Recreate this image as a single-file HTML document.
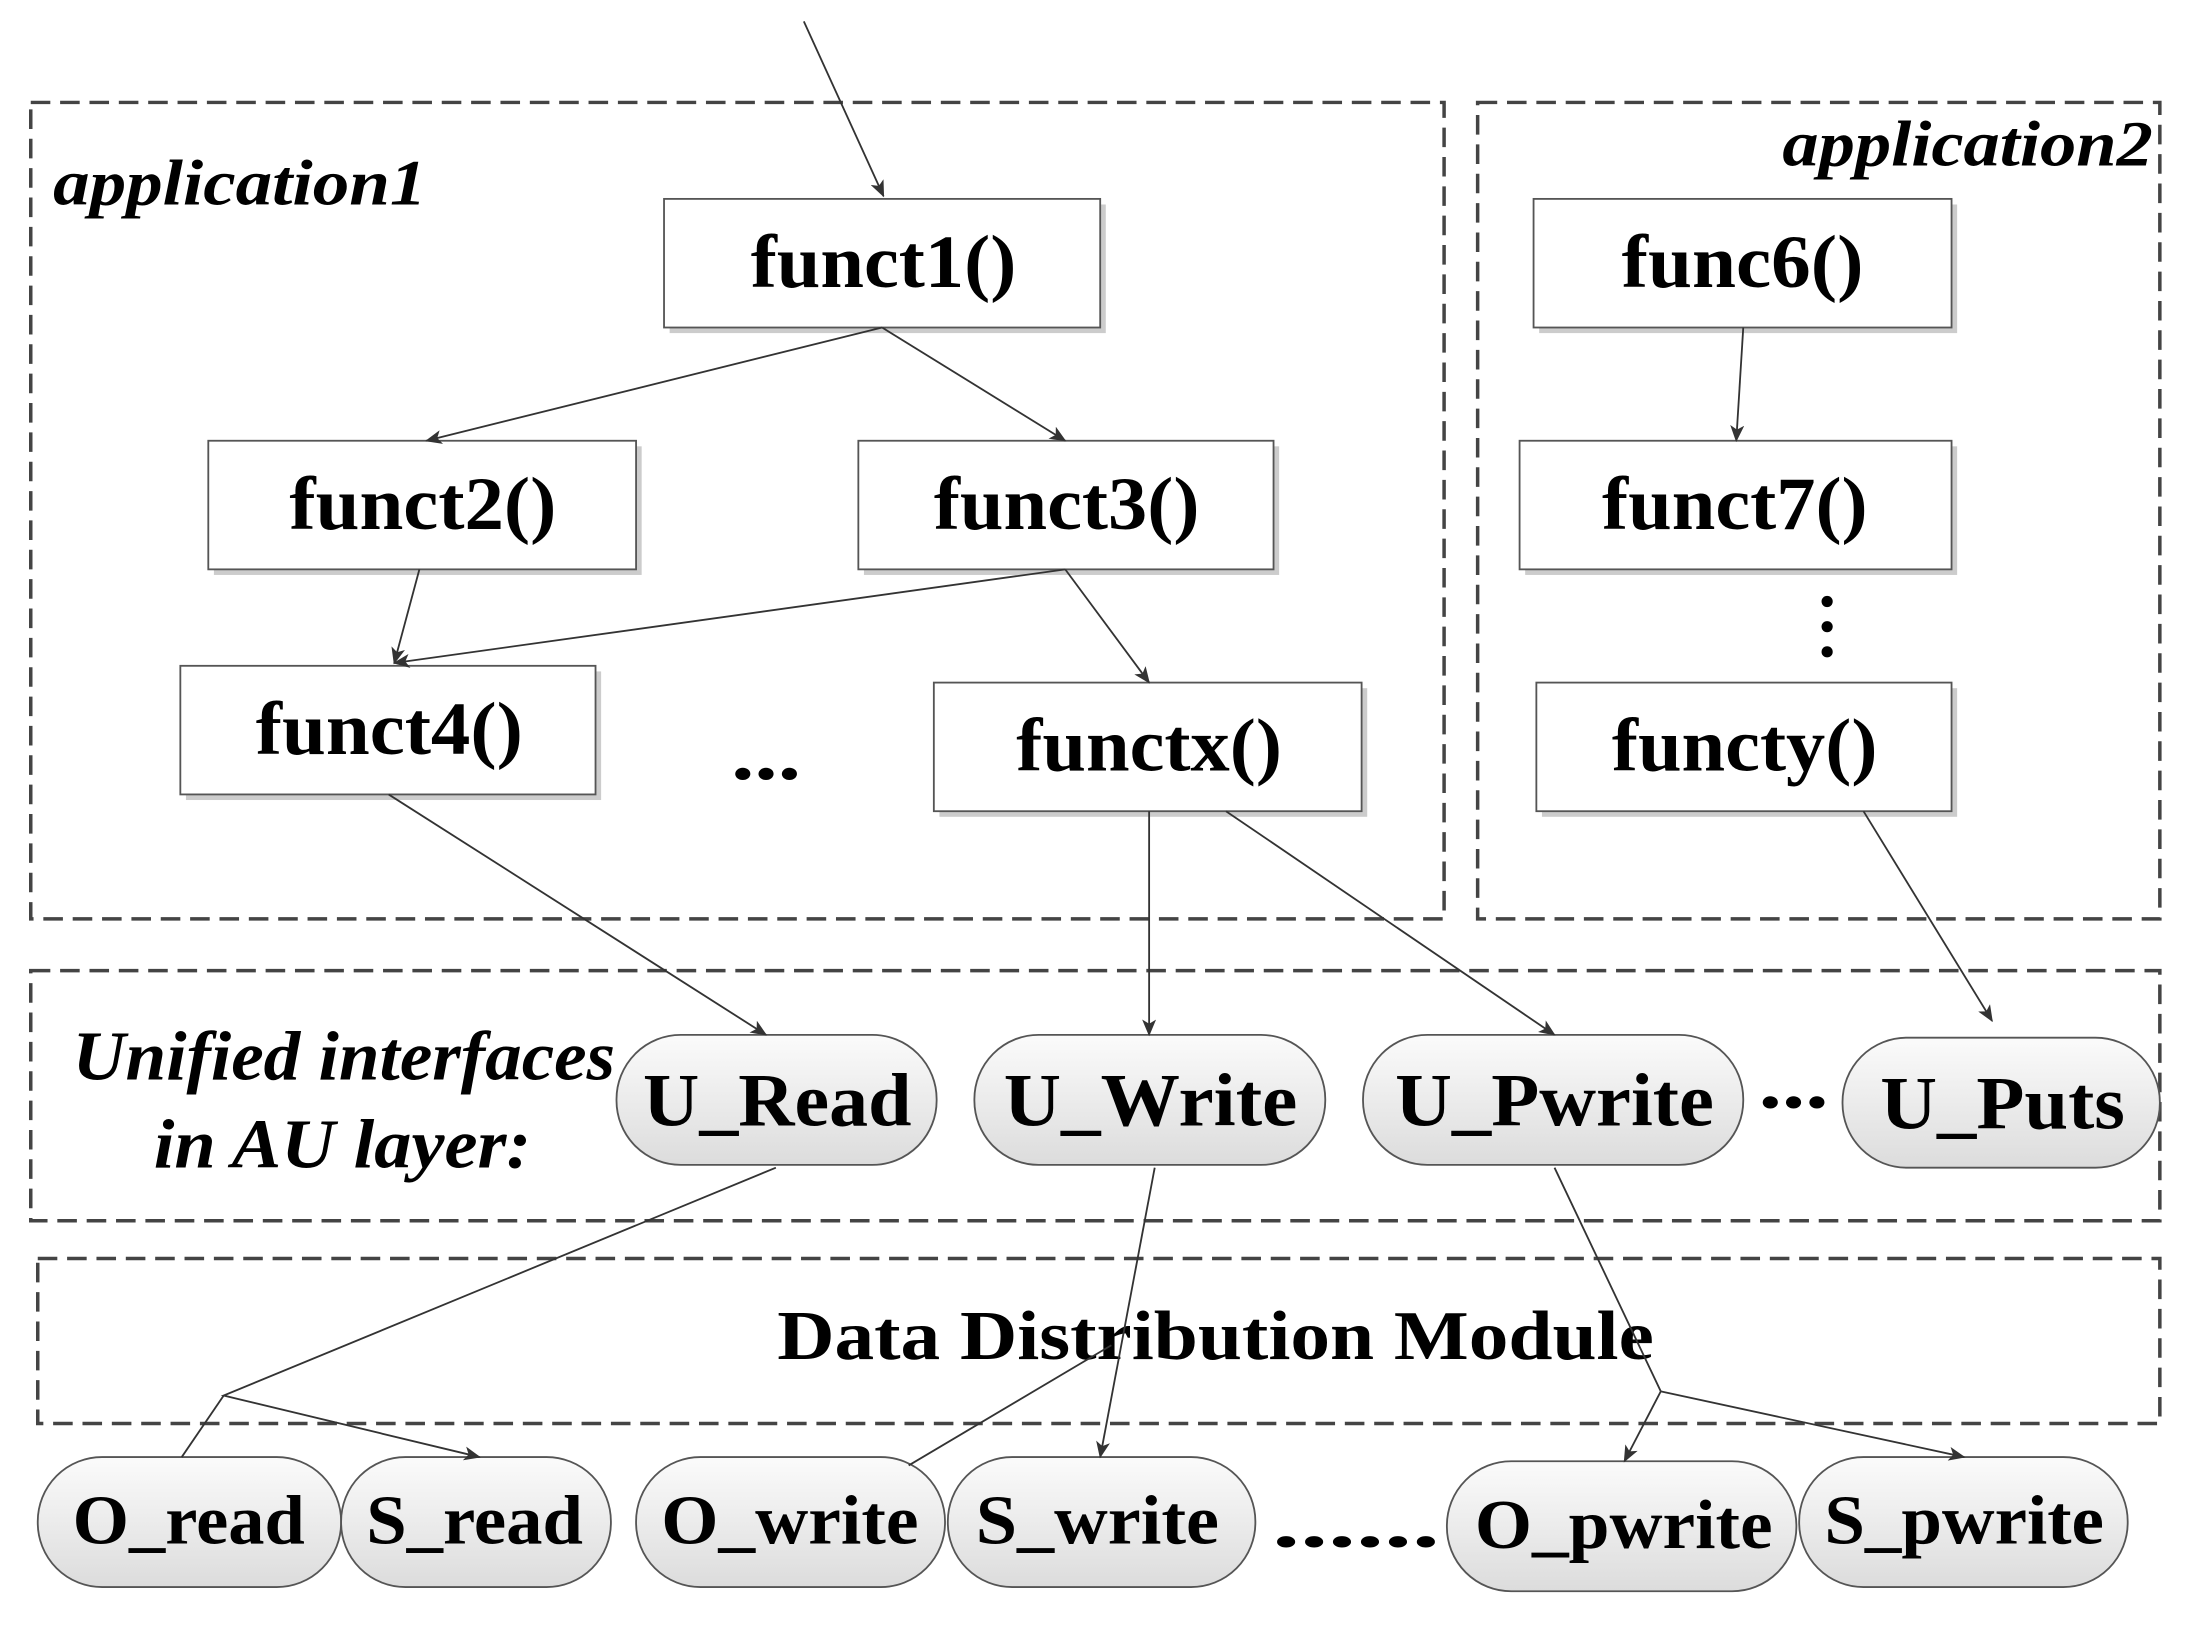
<!DOCTYPE html>
<html><head><meta charset="utf-8"><style>html,body{margin:0;padding:0;background:#fff}svg{display:block}</style></head>
<body>
<svg width="2192" height="1628" viewBox="0 0 1568 1164" xmlns="http://www.w3.org/2000/svg">
<defs>
<marker id="a" markerWidth="12" markerHeight="10" refX="11" refY="5" orient="auto" markerUnits="userSpaceOnUse"><path d="M0,0 L12,5 L0,10 L3,5 Z" fill="#333"/></marker>
<linearGradient id="g" x1="0" y1="0" x2="0" y2="1"><stop offset="0" stop-color="#fbfbfb"/><stop offset="1" stop-color="#dcdcdc"/></linearGradient>
</defs>
<g fill="none" stroke="#444" stroke-width="2.5" stroke-dasharray="14,7">
<rect x="22" y="73" width="1011" height="584"/>
<rect x="1057" y="73" width="488" height="584"/>
<rect x="22" y="694" width="1523" height="179"/>
<rect x="27" y="900" width="1518" height="118"/>
</g>
<g font-family="Liberation Serif, serif" font-weight="bold" font-style="italic" font-size="46" fill="#000" lengthAdjust="spacingAndGlyphs">
<text x="38" y="146" textLength="267" lengthAdjust="spacingAndGlyphs">application1</text>
<text x="1275" y="118" textLength="265" lengthAdjust="spacingAndGlyphs">application2</text>
<text x="52" y="772" font-size="50" textLength="388" lengthAdjust="spacingAndGlyphs">Unified interfaces</text>
<text x="110" y="835" font-size="50" textLength="270" lengthAdjust="spacingAndGlyphs">in AU layer:</text>
</g>
<g stroke="none" fill="#ccc">
<rect x="479" y="146" width="312" height="92"/>
<rect x="153" y="319" width="306" height="92"/>
<rect x="618" y="319" width="297" height="92"/>
<rect x="133" y="480" width="297" height="92"/>
<rect x="672" y="492" width="306" height="92"/>
<rect x="1101" y="146" width="299" height="92"/>
<rect x="1091" y="319" width="309" height="92"/>
<rect x="1103" y="492" width="297" height="92"/>
</g>
<g stroke="#555" stroke-width="1.3" fill="#fff">
<rect x="475" y="142" width="312" height="92"/>
<rect x="149" y="315" width="306" height="92"/>
<rect x="614" y="315" width="297" height="92"/>
<rect x="129" y="476" width="297" height="92"/>
<rect x="668" y="488" width="306" height="92"/>
<rect x="1097" y="142" width="299" height="92"/>
<rect x="1087" y="315" width="309" height="92"/>
<rect x="1099" y="488" width="297" height="92"/>
</g>
<g font-family="Liberation Serif, serif" font-weight="bold" font-size="54" fill="#000">
<text x="537" y="205" textLength="190" lengthAdjust="spacingAndGlyphs">funct1()</text>
<text x="207" y="378" textLength="191" lengthAdjust="spacingAndGlyphs">funct2()</text>
<text x="668" y="378" textLength="190" lengthAdjust="spacingAndGlyphs">funct3()</text>
<text x="183" y="539" textLength="191" lengthAdjust="spacingAndGlyphs">funct4()</text>
<text x="727" y="551" textLength="190" lengthAdjust="spacingAndGlyphs">functx()</text>
<text x="1160" y="205" textLength="173" lengthAdjust="spacingAndGlyphs">func6()</text>
<text x="1146" y="378" textLength="190" lengthAdjust="spacingAndGlyphs">funct7()</text>
<text x="1153" y="551" textLength="190" lengthAdjust="spacingAndGlyphs">functy()</text>
<text x="523" y="557" textLength="50" lengthAdjust="spacingAndGlyphs">...</text>
</g>
<g fill="#000"><circle cx="1307" cy="430" r="4"/><circle cx="1307" cy="448" r="4"/><circle cx="1307" cy="466" r="4"/></g>
<g stroke="#555" stroke-width="1.3" fill="url(#g)">
<rect x="441" y="740" width="229" height="93" rx="46"/>
<rect x="697" y="740" width="251" height="93" rx="46"/>
<rect x="975" y="740" width="272" height="93" rx="46"/>
<rect x="1318" y="742" width="227" height="93" rx="46"/>
<rect x="27" y="1042" width="217" height="93" rx="46"/>
<rect x="244" y="1042" width="193" height="93" rx="46"/>
<rect x="455" y="1042" width="221" height="93" rx="46"/>
<rect x="678" y="1042" width="220" height="93" rx="46"/>
<rect x="1035" y="1045" width="250" height="93" rx="46"/>
<rect x="1287" y="1042" width="235" height="93" rx="46"/>
</g>
<g font-family="Liberation Serif, serif" font-weight="bold" font-size="54" fill="#000">
<text x="460" y="805" textLength="192" lengthAdjust="spacingAndGlyphs">U_Read</text>
<text x="718" y="805" textLength="210" lengthAdjust="spacingAndGlyphs">U_Write</text>
<text x="998" y="805" textLength="228" lengthAdjust="spacingAndGlyphs">U_Pwrite</text>
<text x="1258" y="792" textLength="50" lengthAdjust="spacingAndGlyphs">...</text>
<text x="1345" y="807" textLength="175" lengthAdjust="spacingAndGlyphs">U_Puts</text>
<text x="556" y="972" font-size="50" textLength="627" lengthAdjust="spacingAndGlyphs">Data Distribution Module</text>
<text x="52" y="1104" font-size="50" textLength="166" lengthAdjust="spacingAndGlyphs">O_read</text>
<text x="262" y="1104" font-size="50" textLength="155" lengthAdjust="spacingAndGlyphs">S_read</text>
<text x="473" y="1104" font-size="50" textLength="184" lengthAdjust="spacingAndGlyphs">O_write</text>
<text x="698" y="1104" font-size="50" textLength="174" lengthAdjust="spacingAndGlyphs">S_write</text>
<text x="910" y="1106" font-size="50" textLength="120" lengthAdjust="spacingAndGlyphs">......</text>
<text x="1055" y="1107" font-size="50" textLength="213" lengthAdjust="spacingAndGlyphs">O_pwrite</text>
<text x="1305" y="1104" font-size="50" textLength="200" lengthAdjust="spacingAndGlyphs">S_pwrite</text>
</g>
<g stroke="#333" stroke-width="1.3" fill="none">
<line x1="575" y1="15" x2="632" y2="140" marker-end="url(#a)"/>
<line x1="631" y1="234" x2="305" y2="315" marker-end="url(#a)"/>
<line x1="631" y1="234" x2="762" y2="315" marker-end="url(#a)"/>
<line x1="300" y1="407" x2="282" y2="474" marker-end="url(#a)"/>
<line x1="762" y1="407" x2="282" y2="474" marker-end="url(#a)"/>
<line x1="762" y1="407" x2="822" y2="488" marker-end="url(#a)"/>
<line x1="1247" y1="234" x2="1242" y2="315" marker-end="url(#a)"/>
<line x1="278" y1="568" x2="548" y2="740" marker-end="url(#a)"/>
<line x1="822" y1="580" x2="822" y2="740" marker-end="url(#a)"/>
<line x1="877" y1="580" x2="1112" y2="740" marker-end="url(#a)"/>
<line x1="1333" y1="580" x2="1425" y2="730" marker-end="url(#a)"/>
<polyline points="555,835 160,998 343,1042" marker-end="url(#a)"/>
<line x1="160" y1="998" x2="130" y2="1042"/>
<line x1="826" y1="835" x2="787" y2="1042" marker-end="url(#a)"/>
<line x1="650" y1="1048" x2="795" y2="962"/>
<polyline points="1112,835 1188,995 1162,1045" marker-end="url(#a)"/>
<line x1="1188" y1="995" x2="1405" y2="1042" marker-end="url(#a)"/>
</g>
</svg>
</body></html>
